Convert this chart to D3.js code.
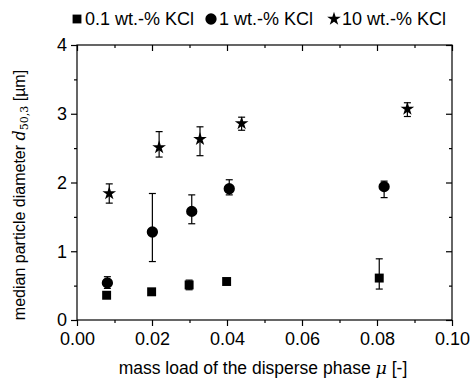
<!DOCTYPE html>
<html>
<head>
<meta charset="utf-8">
<script src="https://cdn.jsdelivr.net/npm/d3@7"></script>
<style>
  body { margin: 0; background: #fff; }
  svg { display: block; font-family: "Liberation Sans", Arial, sans-serif; }
</style>
</head>
<body>
<div id="chart"></div>
<script>
// values
const mu01 = [0.0079, 0.0199, 0.0299, 0.0399, 0.0806];
const d01 = [0.36, 0.41, 0.51, 0.56, 0.61];
const lo01 = [0.36, 0.41, 0.44, 0.52, 0.45];
const hi01 = [0.36, 0.41, 0.58, 0.60, 0.89];

const mu1 = [0.0081, 0.0201, 0.0306, 0.0406, 0.0819];
const d1 = [0.54, 1.28, 1.58, 1.91, 1.94];
const lo1 = [0.46, 0.85, 1.40, 1.82, 1.78];
const hi1 = [0.63, 1.84, 1.82, 2.04, 2.02];

const mu10 = [0.0086, 0.0219, 0.0328, 0.0439, 0.0881];
const d10 = [1.84, 2.51, 2.63, 2.86, 3.07];
const lo10 = [1.70, 2.37, 2.39, 2.76, 2.96];
const hi10 = [1.98, 2.74, 2.81, 2.95, 3.16];

const legendLabels = ["0.1 wt.-% KCl", "1 wt.-% KCl", "10 wt.-% KCl"];
const xTicks = [0, 0.01, 0.02, 0.03, 0.04, 0.05, 0.06, 0.07, 0.08, 0.09, 0.10];
const yTicks = [0, 0.5, 1, 1.5, 2, 2.5, 3, 3.5, 4];

const width = 472, height = 378;
const margin = { top: 45, right: 20, bottom: 58, left: 77 };
const innerW = width - margin.left - margin.right;
const innerH = height - margin.top - margin.bottom;

const svg = d3.select("#chart").append("svg")
  .attr("width", width)
  .attr("height", height);

const g = svg.append("g").attr("transform", `translate(${margin.left},${margin.top})`);

const x = d3.scaleLinear().domain([0, 0.10]).range([0, innerW]);
const y = d3.scaleLinear().domain([0, 4]).range([innerH, 0]);

const isMajorX = v => Math.round(v * 100) % 2 === 0;
const isMajorY = v => Math.abs(v - Math.round(v)) < 1e-9;

// frame
g.append("rect")
  .attr("width", innerW).attr("height", innerH)
  .attr("fill", "none").attr("stroke", "#000").attr("stroke-width", 1.2);

const tickStyle = sel => {
  sel.select(".domain").remove();
  sel.selectAll(".tick line").attr("stroke", "#000").attr("stroke-width", 1.2);
  sel.selectAll("text").attr("fill", "#000").style("font-size", "18px");
};

// bottom axis
const xAxis = g.append("g").attr("transform", `translate(0,${innerH})`)
  .call(d3.axisBottom(x).tickValues(xTicks).tickSizeOuter(0).tickPadding(6)
    .tickFormat(v => isMajorX(v) ? d3.format(".2f")(v) : ""));
tickStyle(xAxis);
xAxis.selectAll(".tick line").attr("y2", d => isMajorX(d) ? 6 : 3);

// top axis (ticks pointing inward)
const xTop = g.append("g")
  .call(d3.axisBottom(x).tickValues(xTicks).tickSizeOuter(0).tickFormat(""));
tickStyle(xTop);
xTop.selectAll(".tick line").attr("y2", d => isMajorX(d) ? 6 : 3);

// left axis
const yAxis = g.append("g")
  .call(d3.axisLeft(y).tickValues(yTicks).tickSizeOuter(0).tickPadding(4)
    .tickFormat(v => isMajorY(v) ? d3.format("d")(v) : ""));
tickStyle(yAxis);
yAxis.selectAll(".tick line").attr("x2", d => isMajorY(d) ? -6 : -3);

// right axis (ticks pointing inward)
const yRight = g.append("g").attr("transform", `translate(${innerW},0)`)
  .call(d3.axisLeft(y).tickValues(yTicks).tickSizeOuter(0).tickFormat(""));
tickStyle(yRight);
yRight.selectAll(".tick line").attr("x2", d => isMajorY(d) ? -6 : -3);

// series
const series = [
  { mu: mu01, d: d01, lo: lo01, hi: hi01, sym: d3.symbolSquare, size: 80 },
  { mu: mu1, d: d1, lo: lo1, hi: hi1, sym: d3.symbolCircle, size: 100 },
  { mu: mu10, d: d10, lo: lo10, hi: hi10, sym: d3.symbolStar, size: 58 }
];

const cap = 3.5;
series.forEach(s => {
  const rows = s.mu.map((m, i) => ({ m, d: s.d[i], lo: s.lo[i], hi: s.hi[i] }));
  const eg = g.append("g").attr("stroke", "#000").attr("stroke-width", 1.2);
  rows.filter(r => r.hi > r.lo).forEach(r => {
    const cx = x(r.m);
    eg.append("line").attr("x1", cx).attr("x2", cx).attr("y1", y(r.lo)).attr("y2", y(r.hi));
    eg.append("line").attr("x1", cx - cap).attr("x2", cx + cap).attr("y1", y(r.lo)).attr("y2", y(r.lo));
    eg.append("line").attr("x1", cx - cap).attr("x2", cx + cap).attr("y1", y(r.hi)).attr("y2", y(r.hi));
  });
  g.append("g").selectAll("path").data(rows).join("path")
    .attr("d", d3.symbol(s.sym, s.size))
    .attr("transform", r => `translate(${x(r.m)},${y(r.d)})`)
    .attr("fill", "#000");
});

// legend
const legendX = [77, 211, 334];
const legendSizes = [78, 100, 58];
const lg = svg.append("g");
legendLabels.forEach((lab, i) => {
  lg.append("path")
    .attr("d", d3.symbol(series[i].sym, legendSizes[i]))
    .attr("transform", `translate(${legendX[i]},${19})`)
    .attr("fill", "#000");
  lg.append("text")
    .attr("x", legendX[i] + 8).attr("y", 25)
    .style("font-size", "18px")
    .text(lab);
});

// axis labels
svg.append("text")
  .attr("x", 263).attr("y", 374)
  .attr("text-anchor", "middle")
  .style("font-size", "17.5px")
  .call(t => {
    t.append("tspan").text("mass load of the disperse phase ");
    t.append("tspan").attr("font-style", "italic").attr("font-family", "DejaVu Serif, serif").text("μ");
    t.append("tspan").text(" [-]");
  });

svg.append("text")
  .attr("transform", `translate(25,195) rotate(-90)`)
  .attr("text-anchor", "middle")
  .style("font-size", "16px")
  .call(t => {
    t.append("tspan").text("median particle diameter ");
    t.append("tspan").attr("font-style", "italic").attr("font-family", "DejaVu Serif, serif").text("d");
    t.append("tspan").attr("dy", 3).style("font-size", "11px").attr("font-family", "DejaVu Serif, serif").text("50,3");
    t.append("tspan").attr("dy", -3).text("  [µm]");
  });
</script>
</body>
</html>
